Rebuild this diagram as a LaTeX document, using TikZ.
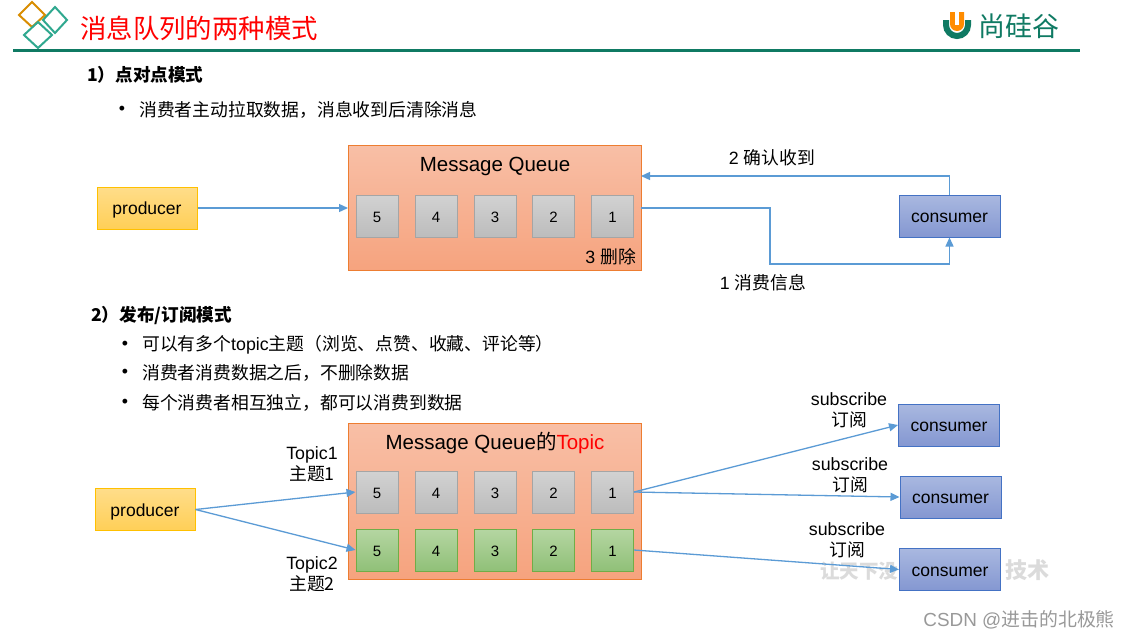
\documentclass[tikz,border=0pt]{standalone}
\usepackage{fontspec}
\setmainfont{Liberation Sans}
\newfontfamily\cjk{Noto Sans CJK SC}
\usetikzlibrary{arrows.meta}
\definecolor{teal1}{HTML}{0F7A63}
\definecolor{teal2}{HTML}{2FA88F}
\definecolor{conn}{HTML}{5B9BD5}
\tikzset{
 queue/.style={draw=HTMLqb,line width=1pt,top color=HTMLqt,bottom color=HTMLqe,minimum width=293pt,minimum height=125pt,inner sep=0pt},
 numbox/.style={line width=1pt,minimum width=42pt,minimum height=42pt,inner sep=0pt,font=\fontsize{15}{15}\selectfont,text height=12pt,text depth=0pt},
 graybox/.style={numbox,draw=HTMLgb,top color=HTMLgt,bottom color=HTMLge},
 greenbox/.style={numbox,draw=HTMLvb,top color=HTMLvt,bottom color=HTMLve},
 prod/.style={draw=HTMLpb,line width=1pt,top color=HTMLpt,bottom color=HTMLpe,minimum width=100pt,minimum height=42pt,inner sep=0pt,font=\fontsize{17.5}{17.5}\selectfont,text height=13.5pt,text depth=0pt},
 cons/.style={draw=HTMLcb,line width=1pt,top color=HTMLct,bottom color=HTMLce,minimum width=101pt,minimum height=42pt,inner sep=0pt,font=\fontsize{17.5}{17.5}\selectfont,text height=13.5pt,text depth=0pt},
 arrow/.style={draw=conn,line width=1.3pt,-{Triangle[length=9pt,width=8pt]}},
 plain/.style={inner sep=0pt,font=\fontsize{17.8}{21}\selectfont,align=center},
 dia/.style={line width=2pt,line join=miter},
}
\definecolor{HTMLqb}{HTML}{ED7D31}
\definecolor{HTMLqt}{HTML}{F8BFA6}
\definecolor{HTMLqe}{HTML}{F6A37E}
\definecolor{HTMLgb}{HTML}{A5A5A5}
\definecolor{HTMLgt}{HTML}{D2D2D2}
\definecolor{HTMLge}{HTML}{BCBCBC}
\definecolor{HTMLvb}{HTML}{70AD47}
\definecolor{HTMLvt}{HTML}{B5D6A2}
\definecolor{HTMLve}{HTML}{90C078}
\definecolor{HTMLpb}{HTML}{FFC000}
\definecolor{HTMLpt}{HTML}{FFDD8A}
\definecolor{HTMLpe}{HTML}{FFCF57}
\definecolor{HTMLcb}{HTML}{4472C4}
\definecolor{HTMLct}{HTML}{A9B8E0}
\definecolor{HTMLce}{HTML}{8497D1}
\begin{document}
\begin{tikzpicture}[x=1pt,y=-1pt]
\useasboundingbox (0,0) rectangle (1129,640);
\fill[white] (0,0) rectangle (1129,640);
% header
\draw[dia,draw=orange!70!yellow!85!black] (19,15)--(32,2)--(45,15)--(32,27)--cycle;
\draw[dia,draw=teal2] (43,20)--(55,7)--(67,20)--(55,33)--cycle;
\draw[dia,draw=teal2] (24,35)--(38,22)--(52,35)--(38,48)--cycle;
\node[plain,text=red,font=\fontsize{26.4}{26.4}\selectfont\cjk] (title) at (199,28) {消息队列的两种模式};
\draw[line width=3pt,draw=teal1] (13,50) -- (1080,50);
\draw[line width=6pt,draw=teal1] (946,20) -- (946,25) arc[start angle=180,end angle=0,radius=11] -- (968,20);
\fill[orange!90!yellow] (950,12) -- (964,12) -- (964,24) arc[start angle=0,end angle=180,radius=7] -- cycle;
\fill[white] (955,12) rectangle (959,25);
\node[plain,text=teal1,font=\fontsize{27}{27}\selectfont\cjk] (brand) at (1019,26) {尚硅谷};
% section 1
\node[plain,anchor=west,font=\fontsize{17.6}{17.6}\selectfont\bfseries\cjk] (s1) at (87,75) {1）点对点模式};
\node[plain] (b1) at (122,110) {•};
\node[plain,anchor=west,font=\fontsize{17.8}{17.8}\selectfont\cjk] (t1) at (139,110) {消费者主动拉取数据，消息收到后清除消息};
% diagram 1
\node[queue,anchor=north west] (q1) at (348,145) {};
\node[plain,font=\fontsize{20.5}{20.5}\selectfont] (q1t) at (495,166) {Message Queue};
\foreach \n/\x in {5/377,4/436,3/495,2/553.5,1/612.5}{
  \node[graybox] (a\n) at (\x,216) {\n};
}
\node[plain,anchor=east] (del) at (636,257) {3 {\cjk 删除}};
\node[prod] (p1) at (147,208) {producer};
\node[cons] (c0) at (949.5,216) {consumer};
\coordinate (q1out) at (641,208);
\coordinate (q1in) at (641,176);
\coordinate (bend1) at (770,208);
\coordinate (bend2) at (770,264);
\draw[arrow] (p1.east) -- (p1.east -| q1.west);
\draw[arrow] (q1out) -- (bend1) -- (bend2) -| (c0.south);
\draw[arrow] (c0.north) |- (q1in);
\node[plain] (ack) at (772,158) {2 {\cjk 确认收到}};
\node[plain] (eat) at (763,283) {1 {\cjk 消费信息}};
% section 2
\node[plain,anchor=west,font=\fontsize{17.6}{17.6}\selectfont\bfseries\cjk] (s2) at (91,316) {2）发布/订阅模式};
\node[plain] (b2) at (125,345) {•};
\node[plain] (b3) at (125,373) {•};
\node[plain] (b4) at (125,403) {•};
\node[plain,anchor=west] (l1) at (142,345) {{\cjk 可以有多个}topic{\cjk 主题（浏览、点赞、收藏、评论等）}};
\node[plain,anchor=west,font=\fontsize{17.8}{17.8}\selectfont\cjk] (l2) at (142,373) {消费者消费数据之后，不删除数据};
\node[plain,anchor=west,font=\fontsize{17.8}{17.8}\selectfont\cjk] (l3) at (142,403) {每个消费者相互独立，都可以消费到数据};
% watermark
\node[plain,text=black!14,anchor=west,font=\fontsize{19.5}{19.5}\selectfont\bfseries\cjk] (wm1) at (820,571) {让天下没};
\node[plain,text=black!14,anchor=west,font=\fontsize{22}{22}\selectfont\bfseries\cjk] (wm2) at (1005,570) {技术};
% diagram 2
\node[queue,anchor=north west,minimum height=156pt] (q2) at (348,423) {};
\node[plain,font=\fontsize{20.5}{20.5}\selectfont] (q2t) at (495,443) {Message Queue{\cjk 的}\textcolor{red}{Topic}};
\foreach \n/\x in {5/377,4/436,3/495,2/553.5,1/612.5}{
  \node[graybox] (t\n) at (\x,492) {\n};
  \node[greenbox] (g\n) at (\x,550) {\n};
}
\node[prod] (p2) at (145,509.5) {producer};
\node[cons] (c1) at (949,425) {consumer};
\node[cons] (c2) at (950.5,497) {consumer};
\node[cons] (c3) at (950,569.5) {consumer};
\draw[arrow] (p2.east) -- (t5.west);
\draw[arrow] (p2.east) -- (g5.west);
\draw[arrow] (t1.east) -- (c1.west);
\draw[arrow] (t1.east) -- (c2.west);
\draw[arrow] (g1.east) -- (c3.west);
\node[plain] (tp1) at (312,464) {Topic1\\{\cjk 主题1}};
\node[plain] (tp2) at (312,574) {Topic2\\{\cjk 主题2}};
\node[plain] (sb1) at (849,410) {subscribe\\{\cjk 订阅}};
\node[plain] (sb2) at (850,475) {subscribe\\{\cjk 订阅}};
\node[plain] (sb3) at (847,540) {subscribe\\{\cjk 订阅}};
\node[plain,text=black!40,anchor=east,font=\fontsize{18.9}{18.9}\selectfont] (csdn) at (1115,620) {CSDN @{\cjk 进击的北极熊}};
\end{tikzpicture}
\end{document}
